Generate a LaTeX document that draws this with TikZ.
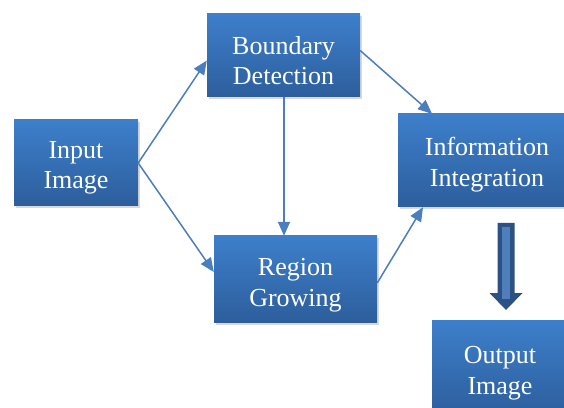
\documentclass[tikz,border=0pt]{standalone}
\usepackage{fontspec}
\setmainfont{Liberation Serif}
\usetikzlibrary{arrows.meta,shadows,calc}
\definecolor{boxtop}{HTML}{3D7FCB}
\definecolor{boxbot}{HTML}{2D5E9C}
\definecolor{arrowc}{HTML}{4A7EBF}
\definecolor{blockc}{HTML}{4F7FBB}
\definecolor{blockd}{HTML}{2B5283}
\begin{document}
\begin{tikzpicture}[x=1pt,y=1pt,
  box/.style={rectangle, top color=boxtop, bottom color=boxbot, draw=none, inner sep=0pt,
    drop shadow={opacity=0.3, shadow xshift=2pt, shadow yshift=-2.5pt}},
  lbl/.style={text=white, align=center, font=\fontsize{26}{30.5}\selectfont, inner sep=0pt, yshift=-5pt},
  conn/.style={draw=arrowc, line width=1.5pt, -{Triangle[length=14pt,width=12pt]}}]
\useasboundingbox (0,0) rectangle (564,407);
\clip (0,0) rectangle (564,407);
% pixel y -> 407 - y
\node[box, minimum width=124pt, minimum height=86pt, label={[lbl]center:{Input\\Image}}] (in) at (76,244) {};
\node[box, minimum width=153pt, minimum height=83pt, label={[lbl]center:{Boundary\\Detection}}] (bd) at (283.5,351.5) {};
\node[box, minimum width=178pt, minimum height=93pt, label={[lbl,yshift=1pt]center:{Information\\Integration}}] (ii) at (487,246.5) {};
\node[box, minimum width=163pt, minimum height=86pt, label={[lbl,yshift=-1pt]center:{Region\\Growing}}] (rg) at (295.5,128) {};
\node[box, minimum width=136pt, minimum height=96pt, label={[lbl]center:{Output\\Image}}] (out) at (500,39) {};
% connectors
\draw[conn] (in.east) -- ([yshift=-5pt]bd.west);
\draw[conn] (in.east) -- ([yshift=7pt]rg.west);
\draw[conn] (bd.south -| 284,0) -- (rg.north -| 284,0);
\draw[conn] ([yshift=5pt]bd.east) -- (ii.north west -| 432,0);
\draw[conn] ([yshift=-4pt]rg.east) -- (ii.south west -| 423,0);
% block arrow between ii and out
\coordinate (ba) at (506,184);
\coordinate (bb) at (506,97);
\fill[blockd] ($(ba)+(-8.5,0)$) -- ($(ba)+(8.5,0)$) -- ($(ba)+(8.5,-70)$) -- ($(ba)+(16.5,-70)$) -- (bb) -- ($(ba)+(-16.5,-70)$) -- ($(ba)+(-8.5,-70)$) -- cycle;
\fill[blockc] ($(ba)+(-4,-4)$) rectangle ($(ba)+(4,-76)$);
\end{tikzpicture}
\end{document}
